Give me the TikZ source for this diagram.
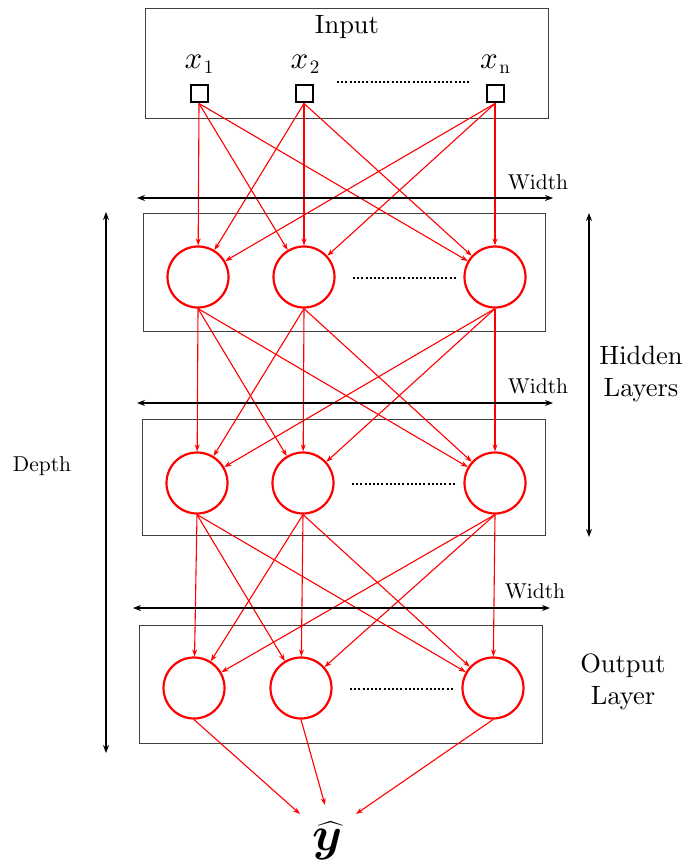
\RequirePackage{fix-cm}
\documentclass[tikz,border=0pt]{standalone}
\usepackage{amsmath,bm}
\usetikzlibrary{arrows.meta}
\font\bigrmfont=cmr10 at 26.5pt
\font\smrmfont=cmr10 at 21.5pt
\font\xmifont=cmmi10 at 31pt
\font\subrmfont=cmr10 at 19pt
\begin{document}
\begin{tikzpicture}[x=1pt,y=-1pt,
  layerbox/.style={draw=black!75,line width=1pt},
  inbox/.style={draw=black,line width=2pt,minimum size=17pt,inner sep=0pt},
  neuron/.style={circle,draw=red,line width=2.2pt,minimum size=61pt,inner sep=0pt},
  conn/.style={draw=red,line width=1.1pt,-{Stealth[length=7pt,width=5pt]}},
  dimarrow/.style={draw=black,line width=1.3pt,{Stealth[length=8pt,width=6pt]}-{Stealth[length=8pt,width=6pt]}},
  dots/.style={draw=black,line width=2pt,dash pattern=on 2pt off 2.2pt},
  lbl/.style={font=\smrmfont,align=center,inner sep=0pt},
  biglbl/.style={font={\bigrmfont\baselineskip=32pt},align=center,inner sep=0pt},
  xlbl/.style={inner sep=0pt}]
\useasboundingbox (0,0) rectangle (685,866);

% boxes
\node[layerbox,minimum width=403pt,minimum height=110pt,anchor=north west] (inputbox) at (145,8) {};
\node[layerbox,minimum width=402pt,minimum height=118pt,anchor=north west] (hbox1) at (143,213) {};
\node[layerbox,minimum width=403pt,minimum height=116pt,anchor=north west] (hbox2) at (142,419) {};
\node[layerbox,minimum width=403pt,minimum height=118pt,anchor=north west] (obox) at (139,625) {};

% input
\node[biglbl] (inputlbl) at (347,27) {Input};
\node[inbox] (i1) at (199,94) {};
\node[inbox] (i2) at (304,94) {};
\node[inbox] (i3) at (495,94) {};
\node[xlbl] (xl1) at (199,64) {{\xmifont x}\kern1.5pt\raisebox{-5pt}{\subrmfont 1}};
\node[xlbl] (xl2) at (305,64) {{\xmifont x}\kern1.5pt\raisebox{-5pt}{\subrmfont 2}};
\node[xlbl] (xl3) at (495,64) {{\xmifont x}\kern1.5pt\raisebox{-5pt}{\subrmfont n}};
\coordinate (di1) at (337,82);
\coordinate (di2) at (470,82);
\draw[dots] (di1) -- (di2);

% hidden 1
\node[neuron] (a1) at (198,277) {};
\node[neuron] (a2) at (304,277) {};
\node[neuron] (a3) at (495,277) {};
\coordinate (da1) at (353,278);
\coordinate (da2) at (456,278);
\draw[dots] (da1) -- (da2);

% hidden 2
\node[neuron] (b1) at (197,483) {};
\node[neuron] (b2) at (303,483) {};
\node[neuron] (b3) at (495,483) {};
\coordinate (db1) at (352,484);
\coordinate (db2) at (456,484);
\draw[dots] (db1) -- (db2);

% output
\node[neuron] (c1) at (194,688) {};
\node[neuron] (c2) at (301,688) {};
\node[neuron] (c3) at (493,688) {};
\coordinate (dc1) at (350,689);
\coordinate (dc2) at (453,689);
\draw[dots] (dc1) -- (dc2);

% y hat
\node[font=\fontsize{48}{52}\selectfont,inner sep=0pt] (yhat) at (328,841) {$\widehat{\bm{y}}$};
\coordinate (y1) at (300,814);
\coordinate (y2) at (325,805);
\coordinate (y3) at (356,814);

% connections
\foreach \s in {1,2,3}{
  \foreach \t in {1,2,3}{
    \draw[conn] (i\s.south) -- (a\t);
    \draw[conn] (a\s.south) -- (b\t);
    \draw[conn] (b\s.south) -- (c\t);
  }
}
\draw[conn] (c1.south) -- (y1);
\draw[conn] (c2.south) -- (y2);
\draw[conn] (c3.south) -- (y3);

% width arrows
\coordinate (w1l) at (137,198);
\coordinate (w1r) at (553,198);
\draw[dimarrow] (w1l) -- (w1r);
\node[lbl] (w1t) at (538,182) {Width};
\coordinate (w2l) at (137,403);
\coordinate (w2r) at (553,403);
\draw[dimarrow] (w2l) -- (w2r);
\node[lbl] (w2t) at (538,386) {Width};
\coordinate (w3l) at (133,608);
\coordinate (w3r) at (550,608);
\draw[dimarrow] (w3l) -- (w3r);
\node[lbl] (w3t) at (535,591) {Width};

% depth
\coordinate (dt) at (106,212);
\coordinate (db) at (106,753);
\draw[dimarrow] (dt) -- (db);
\node[lbl] (depthlbl) at (42,466) {Depth};

% hidden layers
\coordinate (ht) at (589,213);
\coordinate (hb) at (589,537);
\draw[dimarrow] (ht) -- (hb);
\node[biglbl] (hidlbl) at (641,374) {Hidden\\Layers};
\node[biglbl] (outlbl) at (623,682) {Output\\Layer};
\end{tikzpicture}
\end{document}
